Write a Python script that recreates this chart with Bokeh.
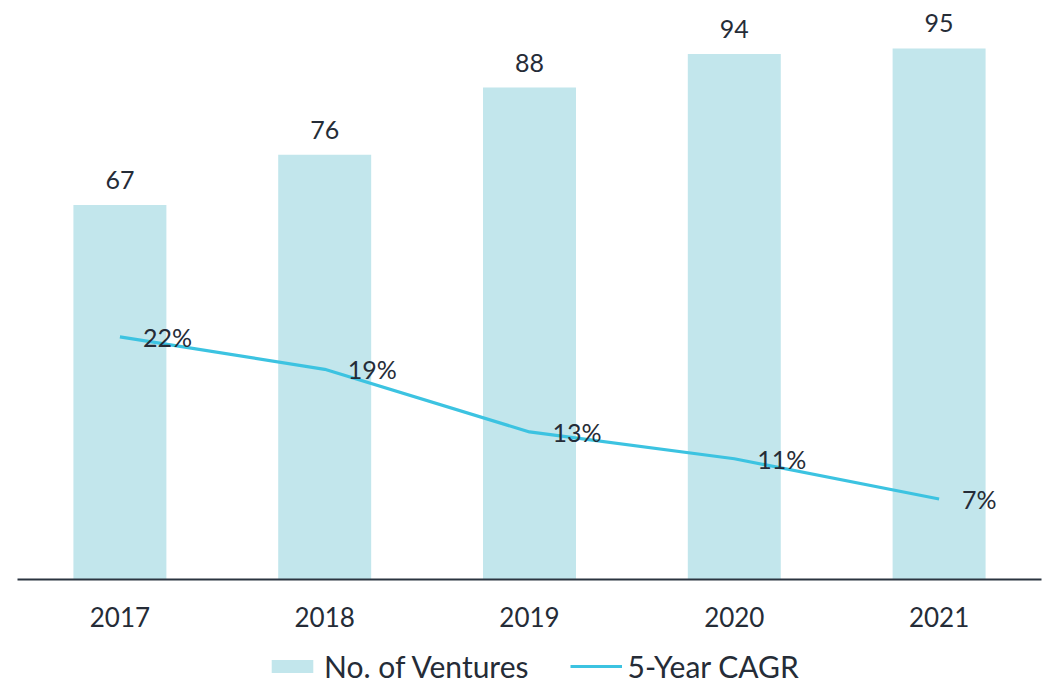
from bokeh.plotting import figure
from bokeh.layouts import column
from bokeh.models import ColumnDataSource, Range1d, FactorRange, Legend, LegendItem
from bokeh.core.properties import value
from bokeh.embed import file_html
from bokeh.resources import INLINE

years = ["2017", "2018", "2019", "2020", "2021"]
ventures = [67, 76, 88, 94, 95]
cagr = [21.7, 18.8, 13.2, 10.8, 7.2]
cagr_labels = ["22%", "19%", "13%", "11%", "7%"]
series_names = ["No. of Ventures", "5-Year CAGR"]

FONT = "Lato"
TXT = "#252c37"
BAR = "#c2e6ec"
LINE = "#3cc3e1"

src = ColumnDataSource(dict(
    x=years, v=ventures, vl=[str(v) for v in ventures],
    c=cagr, cl=cagr_labels,
))

p = figure(width=1042, height=639, x_range=FactorRange(*years),
           y_range=Range1d(0, 102.15), output_backend="svg",
           toolbar_location=None, min_border_left=17, min_border_right=1,
           min_border_top=8, min_border_bottom=60)
p.extra_y_ranges = {"cagr": Range1d(0, 51.07)}
p.outline_line_color = None
p.grid.visible = False
p.yaxis.visible = False
p.background_fill_color = "white"
p.border_fill_color = "white"

p.vbar(x="x", top="v", width=0.454, source=src, fill_color=BAR, line_color=None)
p.line(x="x", y="c", source=src, y_range_name="cagr", line_color=LINE, line_width=3.2)

p.text(x="x", y="v", text="vl", source=src, text_font=value(FONT), text_font_size="25px",
       text_color=TXT, text_align="center", text_baseline="alphabetic", y_offset=-25)
p.text(x="x", y="c", text="cl", source=src, y_range_name="cagr", text_font=value(FONT),
       text_font_size="25px", text_color=TXT, text_align="left", text_baseline="middle",
       x_offset=23, y_offset=0)

ax = p.xaxis[0]
ax.axis_line_color = "#2b3440"
ax.axis_line_width = 2
ax.major_tick_line_color = None
ax.minor_tick_line_color = None
ax.major_label_text_font = FONT
ax.major_label_text_font_size = "26px"
ax.major_label_text_color = TXT
ax.major_label_standoff = 21

# legend strip below the chart (its swatch glyphs sit outside the visible range)
lg = figure(width=1042, height=47, x_range=Range1d(0, 1), y_range=Range1d(0, 1),
            x_axis_type=None, y_axis_type=None, output_backend="svg",
            toolbar_location=None, min_border=0)
lg.outline_line_color = None
lg.grid.visible = False
hidden_bar = ColumnDataSource(dict(x=[-10], y=[-10]))
hidden_line = ColumnDataSource(dict(x=[-10, -9], y=[-10, -10]))
rb = lg.vbar(x="x", top="y", width=0.5, source=hidden_bar, fill_color=BAR, line_color=None)
rl = lg.line(x="x", y="y", source=hidden_line, line_color=LINE, line_width=3.2)

legend = Legend(items=[LegendItem(label=series_names[0], renderers=[rb]),
                       LegendItem(label=series_names[1], renderers=[rl])],
                orientation="horizontal", location=(249, 2),
                label_text_font=FONT, label_text_font_size="30px", label_text_color=TXT,
                glyph_width=52, glyph_height=16, label_standoff=6, spacing=41,
                padding=0, margin=0, border_line_color=None, background_fill_alpha=0)
lg.add_layout(legend, "center")

layout = column(p, lg, spacing=0)
open("out.html", "w").write(file_html(layout, INLINE))
